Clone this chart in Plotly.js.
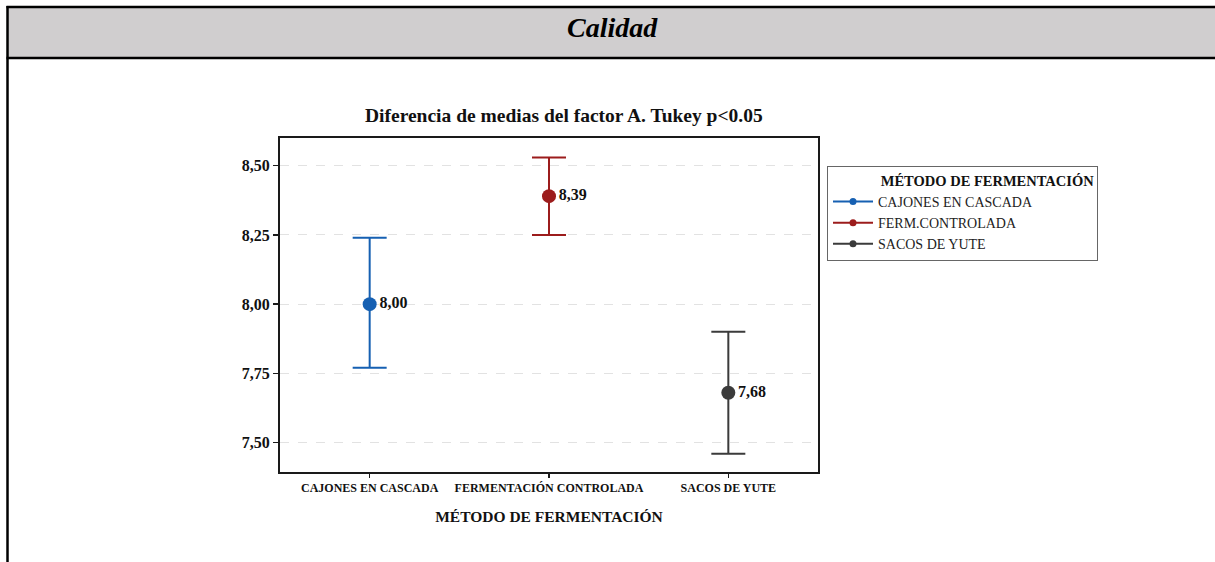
<!DOCTYPE html>
<html>
<head>
<meta charset="utf-8">
<script src="https://cdn.plot.ly/plotly-3.0.1.min.js"></script>
<style>
  html, body { margin: 0; padding: 0; background: #ffffff; }
  #chart { width: 1215px; height: 562px; }
</style>
</head>
<body>
<div id="chart"></div>
<script>
// ---- Data ----
const categories = ['CAJONES EN CASCADA', 'FERMENTACIÓN CONTROLADA', 'SACOS DE YUTE'];
const legendNames = ['CAJONES EN CASCADA', 'FERM.CONTROLADA', 'SACOS DE YUTE'];
const means = [8.00, 8.39, 7.68];
const upper = [8.24, 8.53, 7.90];
const lower = [7.77, 8.25, 7.46];
const colors = ['#1660b2', '#9c1c1c', '#3b3b3b'];
const yTickVals = [7.50, 7.75, 8.00, 8.25, 8.50];
const headerText = 'Calidad';
const chartTitle = 'Diferencia de medias del factor A. Tukey p&lt;0.05';
const axisTitle = 'MÉTODO DE FERMENTACIÓN';
const legendTitle = 'MÉTODO DE FERMENTACIÓN';

// ---- Layout geometry (pixels) ----
const W = 1215, H = 562;
const PL = 280, PR = 818, PT = 138, PB = 472;
const px = x => (x - PL) / (PR - PL);
const py = y => (PB - y) / (PB - PT);

const serif = 'Liberation Serif, Times New Roman, serif';
const fmt = v => v.toFixed(2).replace('.', ',');
const indent = '\u00A0'.repeat(14);

const traces = [];
categories.forEach((c, i) => {
  traces.push({
    type: 'scatter',
    mode: 'markers+text',
    x: [c],
    y: [means[i]],
    text: [fmt(means[i])],
    textposition: 'middle right',
    textfont: { family: serif, size: 16, color: '#111', weight: 'bold' },
    marker: { color: colors[i], size: 14 },
    error_y: {
      type: 'data', symmetric: false,
      array: [upper[i] - means[i]],
      arrayminus: [means[i] - lower[i]],
      color: colors[i], thickness: 2, width: 17
    },
    showlegend: false,
    hoverinfo: 'skip',
    cliponaxis: false
  });
});
legendNames.forEach((n, i) => {
  traces.push({
    type: 'scatter',
    mode: 'lines+markers',
    x: [null], y: [null],
    name: n,
    line: { color: colors[i], width: 2 },
    marker: { color: colors[i], size: 7 },
    showlegend: true
  });
});

const layout = {
  width: W, height: H,
  margin: { l: PL, r: W - PR, t: PT, b: H - PB, pad: 0 },
  paper_bgcolor: '#ffffff',
  plot_bgcolor: '#ffffff',
  separators: ',.',
  font: { family: serif, color: '#111' },
  showlegend: true,
  xaxis: {
    type: 'category',
    categoryorder: 'array',
    categoryarray: categories,
    range: [-0.5, 2.5],
    showgrid: false,
    zeroline: false,
    showline: true, mirror: true, linecolor: '#1a1a1a', linewidth: 2,
    ticks: 'outside', ticklen: 4, tickwidth: 1.5, tickcolor: '#1a1a1a',
    tickfont: { family: serif, size: 12, color: '#111', weight: 'bold' },
    title: { text: axisTitle, font: { family: serif, size: 15.5, color: '#111', weight: 'bold' }, standoff: 17 }
  },
  yaxis: {
    range: [7.394, 8.600],
    tickvals: yTickVals,
    tickformat: '.2f',
    showgrid: true, gridcolor: '#e2e2e2', gridwidth: 1, griddash: 'dash',
    zeroline: false,
    showline: true, mirror: true, linecolor: '#1a1a1a', linewidth: 2,
    ticks: 'outside', ticklen: 5, tickwidth: 1.5, tickcolor: '#1a1a1a',
    tickfont: { family: serif, size: 16, color: '#111', weight: 'bold' }
  },
  legend: {
    x: px(827), y: py(166), xanchor: 'left', yanchor: 'top',
    bordercolor: '#666', borderwidth: 1, bgcolor: '#ffffff',
    font: { family: serif, size: 14, color: '#222' },
    title: { text: indent + legendTitle, font: { family: serif, size: 14.5, color: '#111', weight: 'bold' }, side: 'top' },
    itemwidth: 40
  },
  shapes: [
    { type: 'rect', xref: 'paper', yref: 'paper', x0: px(8), x1: px(W + 5), y0: py(58), y1: py(7), fillcolor: '#d0cecf', line: { width: 0 }, layer: 'below' },
    { type: 'line', xref: 'paper', yref: 'paper', x0: px(6.5), x1: px(W + 5), y0: py(7), y1: py(7), line: { color: '#000', width: 2.5 } },
    { type: 'line', xref: 'paper', yref: 'paper', x0: px(6.5), x1: px(W + 5), y0: py(58), y1: py(58), line: { color: '#000', width: 2.5 } },
    { type: 'line', xref: 'paper', yref: 'paper', x0: px(7.5), x1: px(7.5), y0: py(6), y1: py(H + 5), line: { color: '#000', width: 2.5 } }
  ],
  annotations: [
    { xref: 'paper', yref: 'paper', x: px(612), y: py(27), xanchor: 'center', yanchor: 'middle', showarrow: false,
      text: '<b><i>' + headerText + '</i></b>', font: { family: serif, size: 28, color: '#000' } },
    { xref: 'paper', yref: 'paper', x: px(564), y: py(115), xanchor: 'center', yanchor: 'middle', showarrow: false,
      text: '<b>' + chartTitle + '</b>', font: { family: serif, size: 19.5, color: '#111' } }
  ]
};

Plotly.newPlot('chart', traces, layout, { displayModeBar: false, staticPlot: true });
</script>
</body>
</html>
